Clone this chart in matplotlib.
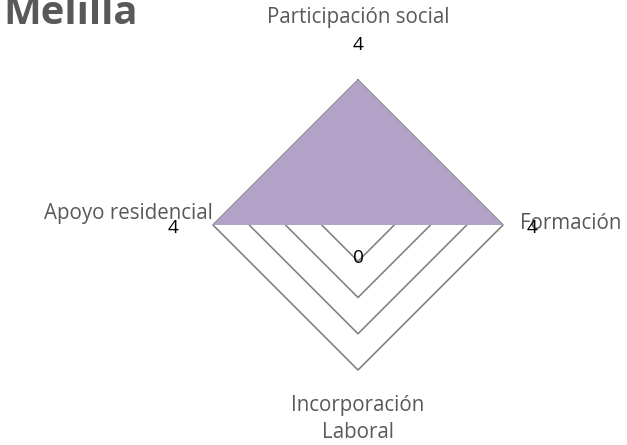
import numpy as np
import matplotlib.pyplot as plt

# datos del gráfico radial
categorias = ['Participación social', 'Formación', 'Incorporación\nLaboral', 'Apoyo residencial']
valores = [4, 4, 0, 4]
niveles = [1, 2, 3, 4]
titulo = 'Melilla'

gris = '#595959'
morado = '#B2A2C7'
fuente = 'Open Sans'


def main():
    fig = plt.figure(figsize=(627 / 72, 445 / 72), dpi=72)
    ax = fig.add_axes([213 / 627, 75 / 445, 290 / 627, 290 / 445], projection='polar')
    ax.set_theta_offset(np.pi / 2)
    ax.set_theta_direction(-1)
    ax.set_ylim(0, max(niveles))
    ax.grid(False)
    ax.spines['polar'].set_visible(False)
    ax.set_xticks([])
    ax.set_yticks([])
    ax.patch.set_alpha(0)

    n = len(categorias)
    ang = np.arange(n) * 2 * np.pi / n
    ang_c = np.append(ang, ang[0])

    # rejilla en forma de rombo
    for nv in niveles:
        ax.plot(ang_c, [nv] * (n + 1), color='#808080', lw=1.6, zorder=1, clip_on=False)

    vals = valores + [valores[0]]
    ax.fill(ang_c, vals, color=morado, lw=0, zorder=2, clip_on=False)

    # etiquetas de categorías
    off_cat = [(0, 62, 'center'), (17, 1, 'left'), (0, -49, 'center'), (0, 12, 'right')]
    for a, v, cat, (dx, dy, ha) in zip(ang, [max(niveles)] * n, categorias, off_cat):
        ax.annotate(cat, xy=(a, v), xytext=(dx, dy), textcoords='offset points',
                    ha=ha, va='center', fontsize=20.5, color=gris, family=fuente,
                    linespacing=1.4, annotation_clip=False)

    # etiquetas de valores
    off_val = [(0, 35), (29, -3), (0, -33), (-40, -3)]
    for a, v, (dx, dy) in zip(ang, valores, off_val):
        ax.annotate(str(v), xy=(a, v), xytext=(dx, dy), textcoords='offset points',
                    ha='center', va='center', fontsize=19, color='black', family=fuente,
                    annotation_clip=False)

    fig.text(3 / 627, 1 - 24 / 445, titulo, ha='left', va='baseline', fontsize=40,
             fontweight='bold', color=gris, family=fuente)

    fig.savefig('out.png', dpi=72)


if __name__ == '__main__':
    main()
